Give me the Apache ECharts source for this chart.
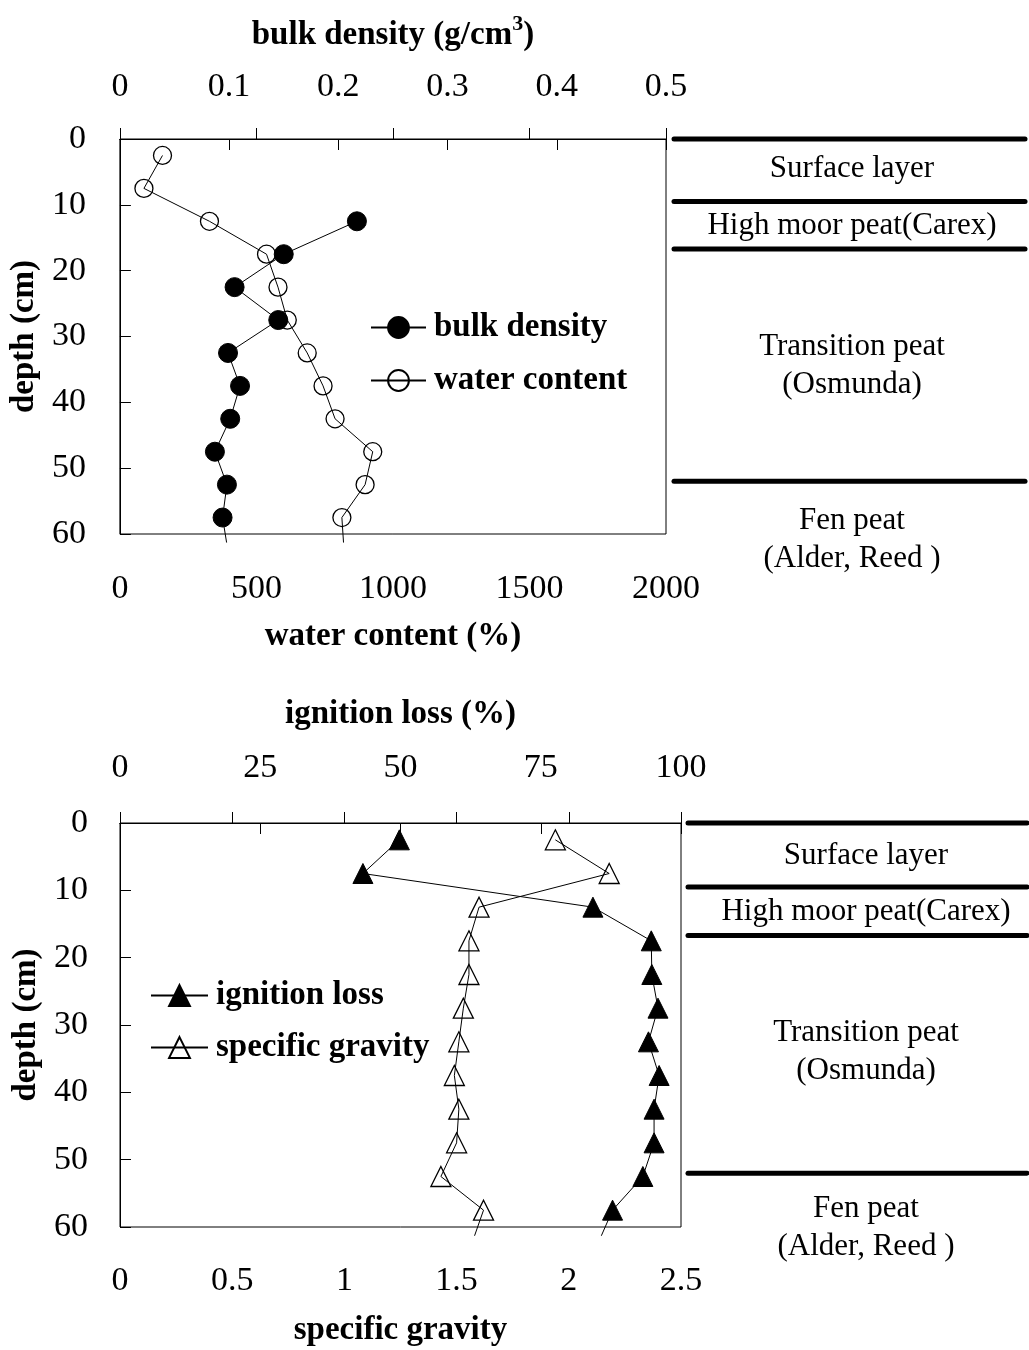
<!DOCTYPE html>
<html>
<head>
<meta charset="utf-8">
<script src="https://cdn.jsdelivr.net/npm/echarts@6/dist/echarts.min.js"></script>
<style>html,body{margin:0;padding:0;background:#fff}#c{width:1029px;height:1350px}</style>
</head>
<body>
<div id="c"></div>
<script>
// ---- data ----
const depths = [2.5, 7.5, 12.5, 17.5, 22.5, 27.5, 32.5, 37.5, 42.5, 47.5, 52.5, 57.5];
const waterContent = [156, 88, 328, 537, 579, 613, 686, 744, 788, 926, 898, 813];
const bulkDepths = [12.5, 17.5, 22.5, 27.5, 32.5, 37.5, 42.5, 47.5, 52.5, 57.5];
const bulkDensity = [0.217, 0.150, 0.105, 0.145, 0.099, 0.110, 0.101, 0.087, 0.098, 0.094];
const ignitionLoss = [49.8, 43.3, 84.3, 94.7, 94.8, 95.9, 94.2, 96.1, 95.2, 95.2, 93.2, 87.8];
const specificGravity = [1.94, 2.18, 1.60, 1.555, 1.555, 1.53, 1.51, 1.49, 1.51, 1.50, 1.43, 1.62];
// line tails running past the last sample (as drawn in the original)
const tailDepths = [57.5, 61.3];
const waterTail = [813, 819];
const bulkTail = [0.094, 0.0977];
const ignitionTail = [87.8, 85.8];
const gravityTail = [1.62, 1.58];
// soil layer boundaries (cm)
const layerBounds = [0, 9.5, 16.7, 52];
const layerLabels = ['Surface layer', 'High moor peat(Carex)', 'Transition peat\n(Osmunda)', 'Fen peat\n(Alder, Reed )'];
const depthTicks = [0, 60, 10];

const FONT = 'Liberation Serif';
const pairs = (xs, ys) => xs.map((x, i) => [x, ys[i]]);

const chart = echarts.init(document.getElementById('c'), null, {renderer: 'canvas'});

const tickLabel = {fontFamily: FONT, fontSize: 34, color: '#000', formatter: v => String(v)};
const nameStyle = {fontFamily: FONT, fontSize: 33, fontWeight: 'bold', color: '#000'};
const axisLine = {show: true, lineStyle: {color: '#000', width: 1}};
const axisTick = {show: true, inside: true, length: 11, lineStyle: {color: '#000', width: 1}};

function valX(gridIndex, pos, min, max, interval, name, nameGap, margin, extra) {
  return Object.assign({
    type: 'value', gridIndex, position: pos, min, max, interval,
    name, nameLocation: 'middle', nameGap, nameTextStyle: nameStyle,
    axisLine, axisTick, splitLine: {show: false},
    axisLabel: Object.assign({margin}, tickLabel)
  }, extra || {});
}
function depthY(gridIndex, nameGap, margin) {
  return {
    type: 'value', gridIndex, inverse: true, min: depthTicks[0], max: depthTicks[1], interval: depthTicks[2],
    name: 'depth (cm)', nameLocation: 'middle', nameRotate: 90, nameGap, nameTextStyle: nameStyle,
    axisLine, axisTick, splitLine: {show: false},
    axisLabel: Object.assign({margin}, tickLabel)
  };
}
function hiddenX(gridIndex) { return {type: 'value', gridIndex, min: 0, max: 1, show: false}; }
function hiddenY(gridIndex) { return {type: 'value', gridIndex, inverse: true, min: depthTicks[0], max: depthTicks[1], show: false}; }

const lineBase = {type: 'line', animation: false, lineStyle: {color: '#000', width: 1}, z: 3};

function layerSeries(xIdx, yIdx) {
  return layerBounds.map(b => ({
    type: 'line', xAxisIndex: xIdx, yAxisIndex: yIdx, animation: false, silent: true,
    symbol: 'none', data: [[0, b], [1, b]], clip: false,
    lineStyle: {color: '#000', width: 5, cap: 'round'}
  }));
}

const labelCfg = [
  {cx: 852, ys: [169, 226, 366, 540]},
  {cx: 866, ys: [856, 912, 1052, 1228]}
];
const graphics = [];
labelCfg.forEach(cfg => {
  layerLabels.forEach((t, i) => {
    graphics.push({
      type: 'text', x: cfg.cx, y: cfg.ys[i], silent: true,
      style: {text: t, fill: '#000', font: '31px "' + FONT + '"', align: 'center', verticalAlign: 'middle', lineHeight: 38}
    });
  });
});

const option = {
  backgroundColor: '#fff',
  animation: false,
  grid: [
    {left: 118, top: 139, width: 548, height: 395, show: true, borderColor: '#000', borderWidth: 1, backgroundColor: 'transparent'},
    {left: 674, top: 139, width: 351, height: 395},
    {left: 120, top: 823, width: 561, height: 404, show: true, borderColor: '#000', borderWidth: 1, backgroundColor: 'transparent'},
    {left: 688, top: 823, width: 339, height: 404}
  ],
  xAxis: [
    valX(0, 'bottom', 0, 2000, 500, 'water content (%)', 86, 38),
    valX(0, 'top', 0, 0.5, 0.1, 'bulk density (g/cm{sup|3})', 82, 35,
      {nameTextStyle: Object.assign({}, nameStyle, {lineHeight: 44, rich: {sup: {fontFamily: FONT, fontSize: 22, fontWeight: 'bold', verticalAlign: 'top', lineHeight: 22, color: '#000'}}})}),
    valX(2, 'bottom', 0, 2.5, 0.5, 'specific gravity', 87, 37),
    valX(2, 'top', 0, 100, 25, 'ignition loss (%)', 92, 38),
    hiddenX(1),
    hiddenX(3)
  ],
  yAxis: [
    depthY(0, 76, 34),
    depthY(2, 76, 32),
    hiddenY(1),
    hiddenY(3)
  ],
  legend: [
    {
      orient: 'vertical', left: 365, top: 306, itemWidth: 55, itemHeight: 26, itemGap: 20,
      data: ['bulk density', 'water content'],
      textStyle: {fontFamily: FONT, fontSize: 33, fontWeight: 'bold', color: '#000', padding: [0, 0, 0, 3]}
    },
    {
      orient: 'vertical', left: 145, top: 974, itemWidth: 57, itemHeight: 26, itemGap: 19,
      data: ['ignition loss', 'specific gravity'],
      textStyle: {fontFamily: FONT, fontSize: 33, fontWeight: 'bold', color: '#000', padding: [0, 0, 0, 3]}
    }
  ],
  graphic: graphics,
  series: [
    Object.assign({}, lineBase, {
      name: 'bulk density', xAxisIndex: 1, yAxisIndex: 0,
      symbol: 'circle', symbolSize: 19,
      itemStyle: {color: '#000', borderColor: '#000', borderWidth: 1},
      data: pairs(bulkDensity, bulkDepths)
    }),
    Object.assign({}, lineBase, {
      name: 'water content', xAxisIndex: 0, yAxisIndex: 0,
      symbol: 'circle', symbolSize: 18,
      itemStyle: {color: 'rgba(255,255,255,0)', borderColor: '#000', borderWidth: 1.3},
      data: pairs(waterContent, depths)
    }),
    Object.assign({}, lineBase, {
      name: 'ignition loss', xAxisIndex: 3, yAxisIndex: 1,
      symbol: 'triangle', symbolSize: 20,
      itemStyle: {color: '#000', borderColor: '#000', borderWidth: 1},
      data: pairs(ignitionLoss, depths)
    }),
    Object.assign({}, lineBase, {
      name: 'specific gravity', xAxisIndex: 2, yAxisIndex: 1,
      symbol: 'triangle', symbolSize: 20,
      itemStyle: {color: 'rgba(255,255,255,0)', borderColor: '#000', borderWidth: 1.3},
      data: pairs(specificGravity, depths)
    }),
    Object.assign({}, lineBase, {xAxisIndex: 1, yAxisIndex: 0, symbol: 'none', clip: false, silent: true, data: pairs(bulkTail, tailDepths)}),
    Object.assign({}, lineBase, {xAxisIndex: 0, yAxisIndex: 0, symbol: 'none', clip: false, silent: true, data: pairs(waterTail, tailDepths)}),
    Object.assign({}, lineBase, {xAxisIndex: 3, yAxisIndex: 1, symbol: 'none', clip: false, silent: true, data: pairs(ignitionTail, tailDepths)}),
    Object.assign({}, lineBase, {xAxisIndex: 2, yAxisIndex: 1, symbol: 'none', clip: false, silent: true, data: pairs(gravityTail, tailDepths)})
  ].concat(layerSeries(4, 2), layerSeries(5, 3))
};
chart.setOption(option);
</script>
</body>
</html>
